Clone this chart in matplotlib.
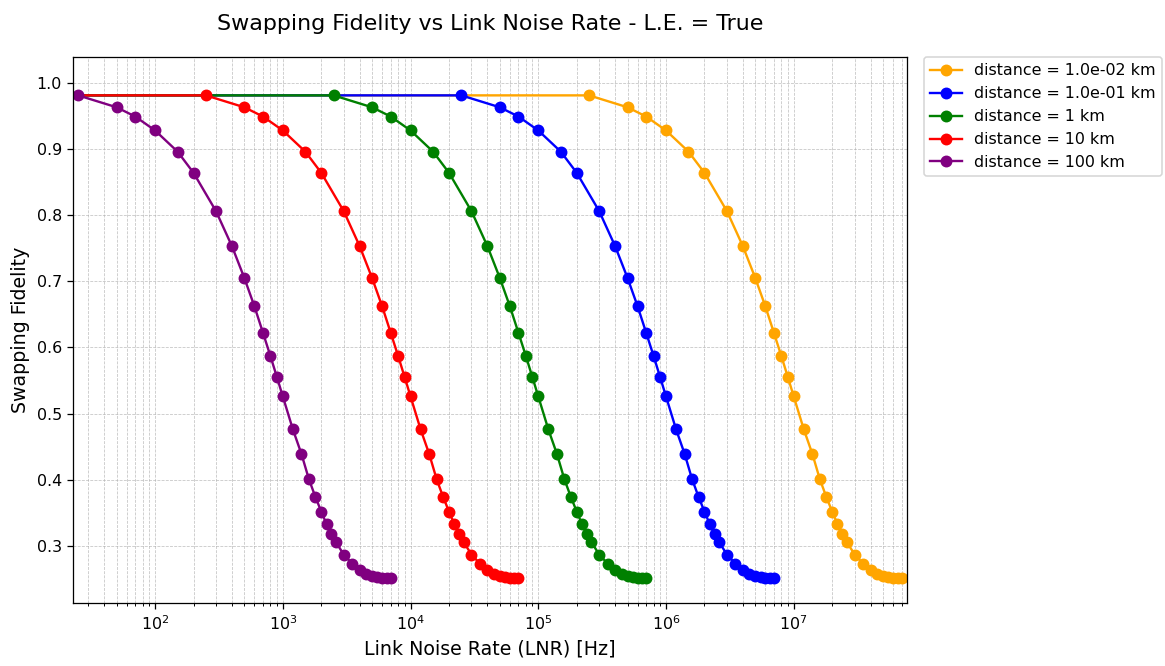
import numpy as np
import matplotlib
matplotlib.use("Agg")
import matplotlib.pyplot as plt

# Link noise rates (Hz) sampled for the 100 km link; shorter links use the
# same grid shifted by the listed multiplier.
base_rates = [0, 25, 50, 70, 100, 150, 200, 300, 400, 500, 600, 700, 800, 900,
              1000, 1200, 1400, 1600, 1800, 2000, 2200, 2400, 2600, 3000,
              3500, 4000, 4500, 5000, 5500, 6000, 6500, 7000]

# Swapping fidelity measured on that grid
fidelity = [1.000, 0.981, 0.963, 0.949, 0.928, 0.896, 0.864, 0.806, 0.753,
            0.705, 0.662, 0.622, 0.587, 0.555, 0.526, 0.476, 0.439, 0.401,
            0.374, 0.352, 0.333, 0.318, 0.306, 0.287, 0.273, 0.264, 0.258,
            0.255, 0.253, 0.252, 0.251, 0.251]

distance_labels = ["1.0e-02 km", "1.0e-01 km", "1 km", "10 km", "100 km"]
rate_multipliers = [1e4, 1e3, 1e2, 1e1, 1e0]
colors = ["orange", "blue", "green", "red", "purple"]

DPI = 114
fig = plt.figure(figsize=(1165 / DPI, 666 / DPI), dpi=DPI)
ax = fig.add_axes([0.0627, 0.0946, 0.7158, 0.8198])

for label, mult, color in zip(distance_labels, rate_multipliers, colors):
    rates = np.array(base_rates, dtype=float) * mult
    ax.plot(rates, fidelity, marker="o", markersize=6.5, linewidth=1.5,
            color=color, label=f"distance = {label}")

ax.set_xscale("log")
ax.set_xlim(22.8, 7.7e7)
ax.set_ylim(0.2137, 1.039)

ax.grid(True, which="both", linestyle="--", linewidth=0.5, color="#b0b0b0",
        alpha=0.75)
ax.set_xlabel("Link Noise Rate (LNR) [Hz]", fontsize=12)
ax.set_ylabel("Swapping Fidelity", fontsize=12)
ax.set_title("Swapping Fidelity vs Link Noise Rate - L.E. = True",
             fontsize=14, pad=17)

ax.legend(loc="upper left", bbox_to_anchor=(1.02, 1.0), borderaxespad=0,
          fontsize=10)

fig.savefig("out.png", dpi=DPI)
